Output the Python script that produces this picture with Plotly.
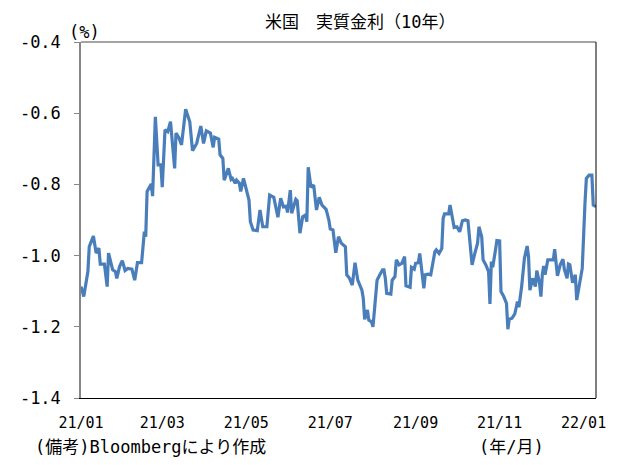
import pandas as pd
import plotly.graph_objects as go

# データ
start_date = "2021-01-01"
day_offsets = [
    0, 2, 5, 6, 9, 11, 13, 14, 17, 19, 20, 23, 25, 26, 28, 30, 32, 34, 37, 39,
    41, 44, 46, 47, 48, 51, 52, 54, 56, 58, 59, 61, 63, 65, 68, 69, 71, 73, 76, 79,
    81, 84, 87, 89, 91, 94, 96, 97, 100, 101, 103, 104, 107, 109, 110, 112, 113, 115, 116, 118,
    122, 123, 125, 128, 130, 132, 135, 137, 140, 143, 145, 147, 149, 150, 152, 153, 156, 157, 159, 161,
    163, 164, 165, 167, 169, 171, 173, 175, 178, 180, 181, 183, 185, 187, 189, 192, 193, 195, 197, 199,
    201, 204, 205, 206, 208, 209, 211, 212, 213, 215, 217, 219, 220, 221, 222, 225, 226, 228, 229, 231,
    233, 235, 236, 239, 240, 242, 243, 245, 246, 249, 250, 252, 254, 257, 258, 260, 262, 263, 264, 267,
    268, 269, 271, 273, 275, 277, 279, 281, 282, 284, 286, 288, 289, 291, 292, 294, 296, 297, 298, 299,
    301, 302, 304, 305, 307, 309, 310, 311, 313, 315, 317, 318, 320, 322, 324, 325, 326, 328, 330, 331,
    333, 334, 335, 336, 337, 339, 341, 343, 344, 346, 348, 350, 351, 353, 354, 355, 357, 359, 360, 362,
    364, 366, 367, 369, 371, 372, 374,
]
real_rate = [
    -1.087, -1.115, -1.045, -0.975, -0.945, -0.993, -0.979, -1.024, -1.024, -1.087,
    -0.993, -1.040, -1.045, -1.064, -1.031, -1.014, -1.042, -1.036, -1.038, -1.069,
    -1.020, -1.020, -0.933, -0.947, -0.820, -0.799, -0.833, -0.610, -0.745, -0.745,
    -0.808, -0.647, -0.652, -0.624, -0.755, -0.656, -0.668, -0.689, -0.589, -0.624,
    -0.705, -0.685, -0.636, -0.685, -0.650, -0.656, -0.696, -0.668, -0.673, -0.717,
    -0.727, -0.788, -0.755, -0.786, -0.783, -0.797, -0.788, -0.797, -0.820, -0.783,
    -0.844, -0.905, -0.928, -0.930, -0.872, -0.919, -0.919, -0.830, -0.836, -0.892,
    -0.839, -0.863, -0.861, -0.879, -0.816, -0.881, -0.842, -0.846, -0.937, -0.891,
    -0.886, -0.905, -0.752, -0.808, -0.802, -0.872, -0.836, -0.858, -0.870, -0.900,
    -0.925, -0.928, -0.992, -0.947, -0.965, -0.975, -1.054, -1.064, -1.083, -1.020,
    -1.069, -1.097, -1.120, -1.179, -1.153, -1.181, -1.186, -1.200, -1.158, -1.069,
    -1.054, -1.040, -1.040, -1.064, -1.106, -1.108, -1.069, -1.059, -1.012, -1.026,
    -1.022, -1.003, -1.085, -1.089, -1.033, -1.038, -1.022, -1.020, -0.994, -1.092,
    -1.054, -1.052, -1.054, -0.989, -0.984, -0.994, -0.980, -0.895, -0.883, -0.883,
    -0.858, -0.877, -0.921, -0.919, -0.933, -0.902, -0.900, -0.902, -0.937, -1.026,
    -0.994, -0.965, -0.919, -0.947, -1.012, -1.026, -1.045, -1.136, -1.017, -1.033,
    -0.984, -0.958, -0.959, -1.101, -1.115, -1.134, -1.207, -1.179, -1.176, -1.164,
    -1.129, -1.145, -1.087, -1.008, -0.973, -1.003, -1.097, -1.064, -1.087, -1.042,
    -1.078, -1.115, -1.054, -1.029, -1.054, -1.012, -1.012, -1.012, -0.982, -1.057,
    -1.026, -1.010, -1.038, -1.064, -1.024, -1.026, -1.076, -1.054, -1.125, -1.078,
    -1.036, -0.853, -0.783, -0.774, -0.774, -0.858, -0.862,
]

x_tick_dates = ["2021-01-01", "2021-03-01", "2021-05-01", "2021-07-01",
                "2021-09-01", "2021-11-01", "2022-01-01"]
x_tick_labels = ["21/01", "21/03", "21/05", "21/07", "21/09", "21/11", "22/01"]
y_tick_vals = [-0.4, -0.6, -0.8, -1.0, -1.2, -1.4]
y_tick_labels = ["-0.4", "-0.6", "-0.8", "-1.0", "-1.2", "-1.4"]

dates = pd.to_datetime(start_date) + pd.to_timedelta(day_offsets, unit="D")

FONT = "DejaVu Sans Mono, Noto Sans CJK JP"

fig = go.Figure()
fig.add_trace(go.Scatter(
    x=dates,
    y=real_rate,
    mode="lines",
    line=dict(color="#4a7ebb", width=3.2),
    showlegend=False,
))

# ページの body に 8px の余白があるので、その分だけ図を小さくする
fig.update_layout(
    width=610,
    height=457,
    margin=dict(l=68, r=17, t=34, b=67),
    paper_bgcolor="white",
    plot_bgcolor="white",
    font=dict(family=FONT, color="black", size=16),
    xaxis=dict(
        range=[pd.Timestamp("2021-01-01"), pd.Timestamp("2022-01-10")],
        tickvals=x_tick_dates,
        ticktext=x_tick_labels,
        showgrid=False,
        zeroline=False,
        showline=True,
        linecolor="black",
        linewidth=1,
        ticks="",
        ticklabelstandoff=11,
        tickfont=dict(size=15),
    ),
    yaxis=dict(
        range=[-1.4, -0.4],
        tickvals=y_tick_vals,
        ticktext=y_tick_labels,
        showgrid=False,
        zeroline=False,
        showline=True,
        linecolor="#868686",
        linewidth=1.5,
        ticks="outside",
        ticklen=5,
        tickcolor="#868686",
        tickwidth=1,
        ticklabelstandoff=10,
        tickfont=dict(size=17),
    ),
    shapes=[
        # 上の枠線（灰色）と右の枠線（黒）
        dict(type="line", xref="paper", yref="paper", x0=0, x1=1, y0=1, y1=1,
             line=dict(color="#868686", width=1.5)),
        dict(type="line", xref="paper", yref="paper", x0=1, x1=1, y0=0, y1=1,
             line=dict(color="black", width=1)),
    ],
    annotations=[
        dict(text="米国　実質金利（10年）", xref="paper", yref="paper",
             x=0.541, y=1.056, xanchor="center", yanchor="middle",
             showarrow=False, font=dict(size=17)),
        dict(text="(%)", xref="paper", yref="paper",
             x=0.006, y=1.028, xanchor="center", yanchor="middle",
             showarrow=False, font=dict(size=17)),
        dict(text="(備考)Bloombergにより作成", xref="paper", yref="paper",
             x=-0.093, y=-0.138, xanchor="left", yanchor="middle",
             showarrow=False, font=dict(size=17)),
        dict(text="(年/月)", xref="paper", yref="paper",
             x=0.836, y=-0.138, xanchor="center", yanchor="middle",
             showarrow=False, font=dict(size=17)),
    ],
)

fig.write_html("out.html")
